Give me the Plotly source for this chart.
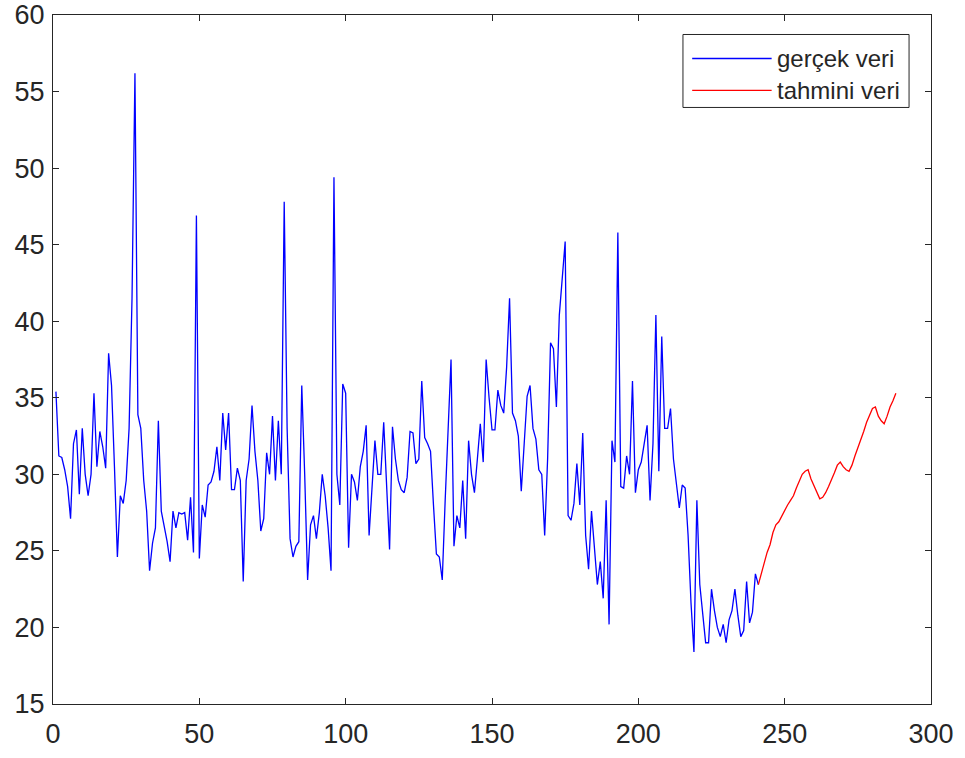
import plotly.graph_objects as go

# Observed series (x = 1..241)
gercek_veri = [
    35.4, 31.2, 31.1, 30.3, 29.2, 27.1, 32.0, 32.9, 28.7, 33.0,
    30.0, 28.6, 30.0, 35.3, 30.5, 32.8, 31.8, 30.4, 37.9, 35.8,
    30.5, 24.6, 28.6, 28.1, 29.6, 33.0, 41.5, 56.2, 33.9, 33.0,
    29.6, 27.6, 23.7, 25.5, 26.5, 33.5, 27.6, 26.6, 25.6, 24.3,
    27.6, 26.5, 27.5, 27.4, 27.5, 25.7, 28.5, 24.9, 46.9, 24.5,
    28.0, 27.2, 29.3, 29.5, 30.2, 31.8, 29.6, 34.0, 31.6, 34.0,
    29.0, 29.0, 30.4, 29.6, 23.0, 29.6, 31.0, 34.5, 31.5, 29.6,
    26.3, 27.1, 31.4, 30.0, 33.8, 29.6, 33.5, 30.0, 47.8, 33.0,
    25.8, 24.6, 25.3, 25.6, 35.8, 30.0, 23.1, 26.7, 27.3, 25.8,
    27.5, 30.0, 28.6, 26.5, 23.7, 49.4, 30.0, 28.0, 35.9, 35.3,
    25.2, 30.0, 29.5, 28.3, 30.5, 31.5, 33.2, 26.0, 29.0, 32.2,
    30.0, 30.0, 33.4, 29.0, 25.1, 33.1, 31.0, 29.6, 29.0, 28.8,
    29.8, 32.8, 32.7, 30.7, 31.0, 36.1, 32.4, 32.0, 31.5, 28.0,
    24.8, 24.6, 23.1, 28.3, 33.0, 37.5, 25.3, 27.3, 26.5, 29.6,
    25.8, 32.2, 30.0, 28.8, 31.0, 33.3, 30.8, 37.5, 35.0, 32.9,
    32.9, 35.5, 34.5, 34.0, 37.0, 41.5, 34.0, 33.5, 32.5, 28.9,
    32.0, 35.1, 35.8, 33.0, 32.3, 30.3, 30.0, 26.0, 31.0, 38.6,
    38.2, 34.4, 40.4, 43.0, 45.2, 27.3, 27.0, 28.1, 30.7, 28.0,
    32.7, 26.0, 23.8, 27.6, 25.0, 22.8, 24.3, 21.9, 28.3, 20.2,
    32.2, 30.8, 45.8, 29.2, 29.1, 31.2, 30.0, 36.1, 28.8, 30.3,
    30.8, 32.0, 33.2, 28.3, 32.0, 40.4, 30.2, 39.0, 33.0, 33.0,
    34.3, 31.0, 29.3, 27.8, 29.3, 29.1, 26.0, 21.6, 18.4, 28.3,
    22.8, 21.0, 19.0, 19.0, 22.5, 21.1, 20.0, 19.4, 20.2, 19.0,
    20.5, 21.1, 22.5, 20.8, 19.4, 19.8, 23.0, 20.3, 21.0, 23.5,
    22.8,
]

# Forecast series (x = 241..288)
tahmini_veri = [
    22.8, 23.6, 24.2, 24.9, 25.4, 26.2, 26.7, 26.9, 27.3, 27.6,
    28.0, 28.3, 28.6, 29.1, 29.6, 30.0, 30.2, 30.3, 29.7, 29.3,
    28.8, 28.4, 28.5, 28.8, 29.2, 29.6, 30.1, 30.6, 30.8, 30.5,
    30.3, 30.2, 30.6, 31.2, 31.7, 32.3, 32.8, 33.4, 33.9, 34.3,
    34.4, 33.8, 33.5, 33.3, 33.8, 34.4, 34.8, 35.3,
]

x_gercek = list(range(1, len(gercek_veri) + 1))
x_tahmin = list(range(len(gercek_veri), len(gercek_veri) + len(tahmini_veri)))

x_ticks = [0, 50, 100, 150, 200, 250, 300]
y_ticks = [15, 20, 25, 30, 35, 40, 45, 50, 55, 60]
legend_labels = ["gerçek veri", "tahmini veri"]

BLUE = "#0000FF"
RED = "#FF0000"
AXIS = "#262626"
FONT = "Liberation Sans, Arial, sans-serif"

fig = go.Figure()
fig.add_trace(go.Scatter(x=x_gercek, y=gercek_veri, mode="lines",
                         line=dict(color=BLUE, width=1.3),
                         name=legend_labels[0], showlegend=False))
fig.add_trace(go.Scatter(x=x_tahmin, y=tahmini_veri, mode="lines",
                         line=dict(color=RED, width=1.3),
                         name=legend_labels[1], showlegend=False))

axis_common = dict(showgrid=False, zeroline=False, showline=True,
                   linecolor=AXIS, linewidth=1, mirror="ticks",
                   ticks="inside", ticklen=6, tickcolor=AXIS, tickwidth=1,
                   automargin=False,
                   tickfont=dict(family=FONT, size=27, color=AXIS))

fig.update_xaxes(range=[0, 300], tickvals=x_ticks, ticklabelstandoff=6,
                 **axis_common)
fig.update_yaxes(range=[15, 60], tickvals=y_ticks, ticklabelstandoff=2,
                 **axis_common)

# MATLAB-style legend box with long line samples
shapes = [
    dict(type="rect", xref="paper", yref="paper",
         x0=0.7175, x1=0.975, y0=0.8658, y1=0.9717,
         line=dict(color=AXIS, width=1), fillcolor="white", layer="above"),
    dict(type="line", xref="paper", yref="paper",
         x0=0.728, x1=0.8185, y0=0.9369, y1=0.9369,
         line=dict(color=BLUE, width=1.3), layer="above"),
    dict(type="line", xref="paper", yref="paper",
         x0=0.728, x1=0.8185, y0=0.8905, y1=0.8905,
         line=dict(color=RED, width=1.3), layer="above"),
]
annotations = [
    dict(xref="paper", yref="paper", x=0.8223, y=0.9369, text=legend_labels[0],
         showarrow=False, xanchor="left", yanchor="middle",
         font=dict(family=FONT, size=24, color=AXIS)),
    dict(xref="paper", yref="paper", x=0.8223, y=0.8905, text=legend_labels[1],
         showarrow=False, xanchor="left", yanchor="middle",
         font=dict(family=FONT, size=24, color=AXIS)),
]

fig.update_layout(width=965, height=758,
                  margin=dict(l=53, r=34, t=14.5, b=54, pad=0),
                  paper_bgcolor="white", plot_bgcolor="white",
                  shapes=shapes, annotations=annotations,
                  showlegend=False)

fig.write_html("out.html")
